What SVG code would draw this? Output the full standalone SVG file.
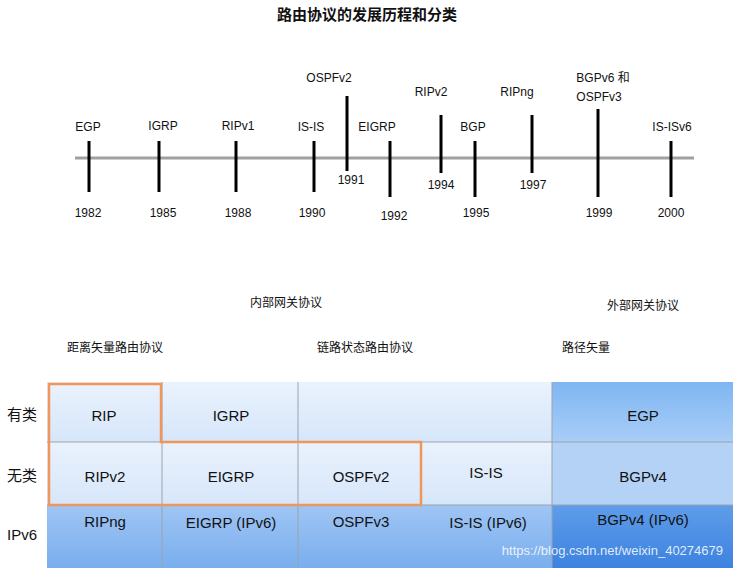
<svg xmlns="http://www.w3.org/2000/svg" width="734" height="570" viewBox="0 0 734 570">
<defs>
<linearGradient id="gl" x1="0" y1="0" x2="0" y2="1"><stop offset="0" stop-color="#eaf2fd"/><stop offset="1" stop-color="#d6e6fa"/></linearGradient>
<linearGradient id="gb" x1="0" y1="0" x2="0" y2="1"><stop offset="0" stop-color="#7fb6f3"/><stop offset="1" stop-color="#a9cdf6"/></linearGradient>
<linearGradient id="g6" x1="0" y1="0" x2="0" y2="1"><stop offset="0" stop-color="#9fc5f4"/><stop offset="1" stop-color="#7aaeee"/></linearGradient>
<linearGradient id="g6d" x1="0" y1="0" x2="0" y2="1"><stop offset="0" stop-color="#5f9de9"/><stop offset="1" stop-color="#3c82e0"/></linearGradient>
</defs>
<style>
text{font-family:"Liberation Sans",Arial,"Noto Sans CJK SC",sans-serif;fill:#111}
.t{font-size:12px;text-anchor:middle}
.c{font-size:15px;text-anchor:middle}
.tk{stroke:#000;stroke-width:3}
.sep{stroke:#9aa3ad;stroke-width:1}
</style>
<rect width="734" height="570" fill="#fff"/>
<text x="367" y="20" style="font-size:15px;font-weight:bold;text-anchor:middle">路由协议的发展历程和分类</text>
<g id="timeline">
<line x1="75" y1="158" x2="694" y2="158" stroke="#a0a0a0" stroke-width="3"/>
<line class="tk" x1="89" y1="141" x2="89" y2="192"/>
<line class="tk" x1="159" y1="141" x2="159" y2="192"/>
<line class="tk" x1="236" y1="141" x2="236" y2="192"/>
<line class="tk" x1="314" y1="141" x2="314" y2="192"/>
<line class="tk" x1="347" y1="96" x2="347" y2="171"/>
<line class="tk" x1="390" y1="141" x2="390" y2="197"/>
<line class="tk" x1="441" y1="115" x2="441" y2="173"/>
<line class="tk" x1="475" y1="141" x2="475" y2="197"/>
<line class="tk" x1="532" y1="115" x2="532" y2="173"/>
<line class="tk" x1="598" y1="109" x2="598" y2="197"/>
<line class="tk" x1="671" y1="141" x2="671" y2="197"/>
<text class="t" x="88" y="131">EGP</text><text class="t" x="88" y="217">1982</text>
<text class="t" x="163" y="130">IGRP</text><text class="t" x="163" y="217">1985</text>
<text class="t" x="238" y="130">RIPv1</text><text class="t" x="238" y="217">1988</text>
<text class="t" x="311" y="131">IS-IS</text><text class="t" x="312" y="217">1990</text>
<text class="t" x="329" y="82">OSPFv2</text><text class="t" x="351" y="184">1991</text>
<text class="t" x="377" y="131">EIGRP</text><text class="t" x="394" y="220">1992</text>
<text class="t" x="431" y="96">RIPv2</text><text class="t" x="441" y="189">1994</text>
<text class="t" x="473" y="131">BGP</text><text class="t" x="476" y="217">1995</text>
<text class="t" x="517" y="96">RIPng</text><text class="t" x="533" y="189">1997</text>
<text class="t" x="603" y="82">BGPv6 和</text><text class="t" x="599" y="101">OSPFv3</text>
<text class="t" x="599" y="217">1999</text>
<text class="t" x="672" y="131">IS-ISv6</text><text class="t" x="671" y="217">2000</text>
</g>
<g id="headers">
<text class="t" x="286" y="307">内部网关协议</text>
<text class="t" x="643" y="310">外部网关协议</text>
<text class="t" x="115" y="352">距离矢量路由协议</text>
<text class="t" x="365" y="352">链路状态路由协议</text>
<text class="t" x="586" y="352">路径矢量</text>
<text class="c" x="22" y="420">有类</text>
<text class="c" x="22" y="481">无类</text>
<text class="c" x="22" y="540">IPv6</text>
</g>
<g id="table">
<rect x="47" y="382" width="505" height="60" fill="url(#gl)"/>
<rect x="47" y="442" width="505" height="63" fill="url(#gl)"/>
<rect x="552" y="382" width="181" height="60" fill="url(#gb)"/>
<rect x="552" y="442" width="181" height="63" fill="#b3d2f6"/>
<rect x="47" y="505" width="505" height="63" fill="url(#g6)"/>
<rect x="552" y="505" width="181" height="63" fill="url(#g6d)"/>
<line class="sep" x1="47" y1="442" x2="733" y2="442"/>
<line class="sep" x1="47" y1="505" x2="733" y2="505"/>
<line class="sep" x1="162" y1="382" x2="162" y2="568"/>
<line class="sep" x1="298" y1="382" x2="298" y2="568"/>
<line class="sep" x1="552" y1="382" x2="552" y2="568"/>
<path d="M49,384 H161 V442 H421 V505 H49 Z" fill="none" stroke="#f0965a" stroke-width="2.5"/>
<text class="c" x="104" y="421">RIP</text>
<text class="c" x="231" y="421">IGRP</text>
<text class="c" x="643" y="421">EGP</text>
<text class="c" x="105" y="482">RIPv2</text>
<text class="c" x="231" y="482">EIGRP</text>
<text class="c" x="361" y="482">OSPFv2</text>
<text class="c" x="486" y="478">IS-IS</text>
<text class="c" x="643" y="482">BGPv4</text>
<text class="c" x="105" y="527">RIPng</text>
<text class="c" x="231" y="528">EIGRP (IPv6)</text>
<text class="c" x="361" y="527">OSPFv3</text>
<text class="c" x="488" y="528">IS-IS (IPv6)</text>
<text class="c" x="643" y="525">BGPv4 (IPv6)</text>
<text x="723" y="555" style="font-size:13px;text-anchor:end;fill:#ffffff;fill-opacity:0.85">https://blog.csdn.net/weixin_40274679</text>
</g>
</svg>
